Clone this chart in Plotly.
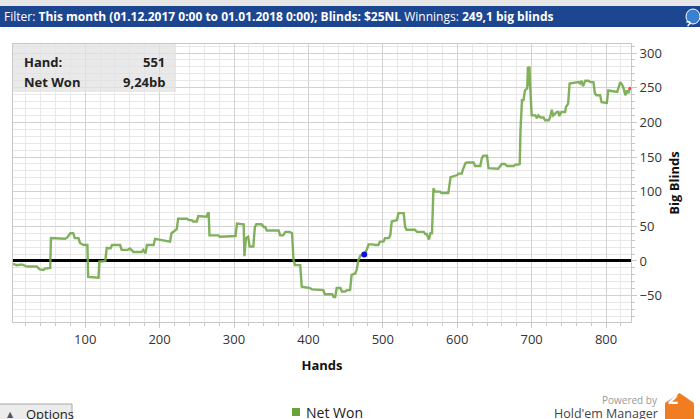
import plotly.graph_objects as go

# ---------------- data ----------------
hands = [3, 8, 15, 22, 35, 39, 44, 46, 53, 54, 73, 76, 80, 84, 86, 91, 93, 98, 103, 104,
         118, 119, 127, 129, 134, 136, 147, 149, 157, 160, 165, 176, 178, 181, 183, 192, 194,
         207, 214, 216, 223, 225, 237, 239, 243, 245, 250, 252, 257, 260, 263, 265, 266, 267,
         279, 281, 290, 292, 302, 304, 313, 314, 316, 319, 321, 326, 328, 330, 337, 340, 342,
         344, 360, 362, 366, 369, 375, 378, 380, 382, 389, 391, 402, 405, 414, 416, 420, 422,
         432, 434, 436, 438, 443, 445, 449, 452, 456, 458, 463, 465, 467, 470, 475, 479, 481,
         487, 490, 494, 496, 501, 503, 508, 510, 512, 519, 521, 528, 530, 532, 543, 546, 555,
         557, 559, 562, 564, 566, 567, 568, 570, 577, 579, 588, 591, 600, 602, 606, 608, 611,
         613, 622, 624, 631, 633, 635, 640, 642, 655, 658, 660, 664, 667, 676, 678, 682, 684,
         685, 686, 687, 689, 691, 694, 695, 696, 697, 698, 699, 700, 705, 707, 709, 712, 716,
         718, 723, 725, 727, 729, 732, 734, 736, 737, 740, 745, 746, 749, 751, 761, 763, 765,
         767, 769, 772, 776, 779, 783, 784, 785, 787, 792, 794, 801, 803, 812, 815, 817, 819,
         821, 823, 826, 828, 830, 832]
net_won = [-4, -6, -5, -8, -8, -12, -13, -11, -10, 33, 32, 34, 40, 40, 33, 33, 26, 23, 23, -23,
           -24, -1, 0, 19, 18, 23, 23, 16, 16, 18, 13, 13, 16, 11, 23, 23, 32,
           30, 28, 40, 46, 61, 61, 59, 59, 57, 57, 65, 65, 64, 64, 69, 69, 37,
           37, 35, 35, 36, 36, 54, 53, 7, 33, 35, 21, 21, 49, 53, 53, 49, 49,
           44, 44, 37, 37, 42, 42, 40, 1, -6, -6, -37, -39, -41, -41, -42, -42, -48,
           -48, -52, -52, -39, -39, -44, -44, -42, -42, -20, -18, -12, 1, 8, 9.24, 18, 24,
           24, 23, 23, 28, 28, 33, 33, 37, 57, 59, 69, 69, 49, 45, 45, 42, 42,
           39, 39, 31, 40, 40, 69, 105, 100, 100, 98, 98, 121, 124, 126, 126, 133, 141,
           142, 142, 137, 137, 148, 152, 152, 134, 133, 138, 140, 140, 137, 137, 139, 139, 140,
           189, 229, 232, 232, 246, 249, 280, 252, 281, 252, 218, 210, 210, 206, 210, 207, 207,
           203, 203, 208, 218, 210, 213, 215, 215, 209, 215, 215, 222, 227, 256, 257, 258, 256,
           260, 252, 260, 260, 258, 258, 251, 242, 239, 239, 229, 228, 246, 245, 244, 251, 258,
           255, 251, 239, 246, 242, 249.1]

hover_hand = [475]
hover_value = [9.24]
last_hand = [832]
last_value = [249.1]

x_tick_vals = [100, 200, 300, 400, 500, 600, 700, 800]
y_tick_vals = [-50, 0, 50, 100, 150, 200, 250, 300]

series_name = 'Net Won'

# ---------------- layout helpers (pixel -> paper) ----------------
W, H = 700, 419
L, R, T, B = 13, 631, 44, 322
def px(x):
    return (x - L) / (R - L)
def py(y):
    return (B - y) / (B - T)

GREEN = 'rgba(115,168,74,0.9)'
FONT = 'Open Sans'

fig = go.Figure()
fig.add_trace(go.Scatter(x=hands, y=net_won, mode='lines', name=series_name,
                         line=dict(color=GREEN, width=2.4), showlegend=False,
                         hoverinfo='skip'))
fig.add_trace(go.Scatter(x=hover_hand, y=hover_value, mode='markers',
                         marker=dict(color='#1010e0', size=6), showlegend=False))
fig.add_trace(go.Scatter(x=last_hand, y=last_value, mode='markers',
                         marker=dict(color='#ff4040', size=3), showlegend=False))

axis_common = dict(showline=True, linecolor='#c8c8c8', linewidth=1, mirror=True,
                   ticks='outside', ticklen=5, tickcolor='#c8c8c8',
                   gridcolor='#d2d2d2', gridwidth=1, automargin=False,
                   tickfont=dict(family=FONT, size=13, color='#333333'))

fig.update_layout(
    width=W, height=H,
    margin=dict(l=L, r=W - R, t=T, b=H - B, autoexpand=False),
    paper_bgcolor='white', plot_bgcolor='white',
    font=dict(family=FONT),
    showlegend=False,
    xaxis=dict(range=[3, 833.5], tickvals=x_tick_vals, zeroline=False,
               title=dict(text='<b>Hands</b>', font=dict(family=FONT, size=13, color='#111111'),
                          standoff=14),
               minor=dict(dtick=20, tick0=0, showgrid=True, gridcolor='#e8e8e8',
                          ticks='outside', ticklen=3, tickcolor='#c8c8c8'),
               **axis_common),
    yaxis=dict(range=[-88, 313], tickvals=y_tick_vals, side='right',
               zeroline=True, zerolinecolor='#000000', zerolinewidth=2.5,
               title=dict(text='<b>Big Blinds</b>', font=dict(family=FONT, size=13, color='#111111'),
                          standoff=8),
               minor=dict(dtick=10, tick0=0, showgrid=True, gridcolor='#e8e8e8',
                          ticks='outside', ticklen=3, tickcolor='#c8c8c8'),
               **axis_common),
)

shapes = []
annotations = []

# title bar
shapes.append(dict(type='rect', xref='paper', yref='paper', x0=px(0), x1=px(700),
                   y0=py(0), y1=py(6), fillcolor='#e6e6e6', line=dict(width=0), layer='below'))
shapes.append(dict(type='rect', xref='paper', yref='paper', x0=px(0), x1=px(700),
                   y0=py(6), y1=py(27), fillcolor='#1d4690', line=dict(width=0), layer='below'))
annotations.append(dict(xref='paper', yref='paper', x=px(2), y=py(16.5), xanchor='left',
                        yanchor='middle', showarrow=False,
                        text='Filter: <b>This month (01.12.2017 0:00 to 01.01.2018 0:00); Blinds: $25NL</b> '
                             'Winnings: <b>249,1 big blinds</b>',
                        font=dict(family=FONT, size=12, color='white')))
shapes.append(dict(type='circle', xref='paper', yref='paper', x0=px(686), x1=px(700),
                   y0=py(9), y1=py(24), fillcolor='#3a7fd0', line=dict(color='white', width=1)))
annotations.append(dict(xref='paper', yref='paper', x=px(693), y=py(16.5), showarrow=False,
                        text='<b>?</b>', font=dict(family=FONT, size=10, color='white')))

# hover info box
shapes.append(dict(type='rect', xref='paper', yref='paper', x0=px(13), x1=px(176),
                   y0=py(44), y1=py(92), fillcolor='rgba(225,225,225,0.75)',
                   line=dict(width=0)))
for label, value, yy in [('Hand:', '551', 62), ('Net Won', '9,24bb', 82)]:
    annotations.append(dict(xref='paper', yref='paper', x=px(22), y=py(yy), xanchor='left',
                            yanchor='middle', showarrow=False, text='<b>%s</b>' % label,
                            font=dict(family=FONT, size=13, color='#222222')))
    annotations.append(dict(xref='paper', yref='paper', x=px(167), y=py(yy), xanchor='right',
                            yanchor='middle', showarrow=False, text='<b>%s</b>' % value,
                            font=dict(family=FONT, size=13, color='#222222')))

# legend (square swatch + label)
shapes.append(dict(type='rect', xref='paper', yref='paper', x0=px(292), x1=px(300),
                   y0=py(416), y1=py(408), fillcolor='#6aa33a', line=dict(width=0)))
annotations.append(dict(xref='paper', yref='paper', x=px(304), y=py(412), xanchor='left',
                        yanchor='middle', showarrow=False, text=series_name,
                        font=dict(family=FONT, size=14, color='#222222')))

# options button
shapes.append(dict(type='rect', xref='paper', yref='paper', x0=px(-1), x1=px(72),
                   y0=py(425), y1=py(404), fillcolor='#ececec', line=dict(color='#a8a8a8', width=1)))
annotations.append(dict(xref='paper', yref='paper', x=px(5), y=py(414), xanchor='left',
                        yanchor='middle', showarrow=False, text='▲',
                        font=dict(family='DejaVu Sans', size=8, color='#555555')))
annotations.append(dict(xref='paper', yref='paper', x=px(24), y=py(414), xanchor='left',
                        yanchor='middle', showarrow=False, text='Options',
                        font=dict(family=FONT, size=13, color='#222222')))

# powered-by logo
annotations.append(dict(xref='paper', yref='paper', x=px(660), y=py(400), xanchor='right',
                        yanchor='middle', showarrow=False, text='Powered by',
                        font=dict(family=FONT, size=10, color='#999999')))
annotations.append(dict(xref='paper', yref='paper', x=px(660), y=py(413), xanchor='right',
                        yanchor='middle', showarrow=False, text="Hold'em Manager",
                        font=dict(family=FONT, size=12.5, color='#444444')))
path = 'M %f,%f L %f,%f L %f,%f L %f,%f L %f,%f Z' % (
    px(665), py(425), px(665), py(403), px(679.5), py(393), px(694), py(403), px(694), py(425))
shapes.append(dict(type='path', xref='paper', yref='paper', path=path,
                   fillcolor='#f07d22', line=dict(width=0)))
annotations.append(dict(xref='paper', yref='paper', x=px(679.5), y=py(411), showarrow=False,
                        text='<b>2</b>', font=dict(family=FONT, size=18, color='white')))

fig.update_layout(shapes=shapes, annotations=annotations)
fig.write_html('out.html', config={'displayModeBar': False},
               post_script="document.body.style.margin='0px';")
